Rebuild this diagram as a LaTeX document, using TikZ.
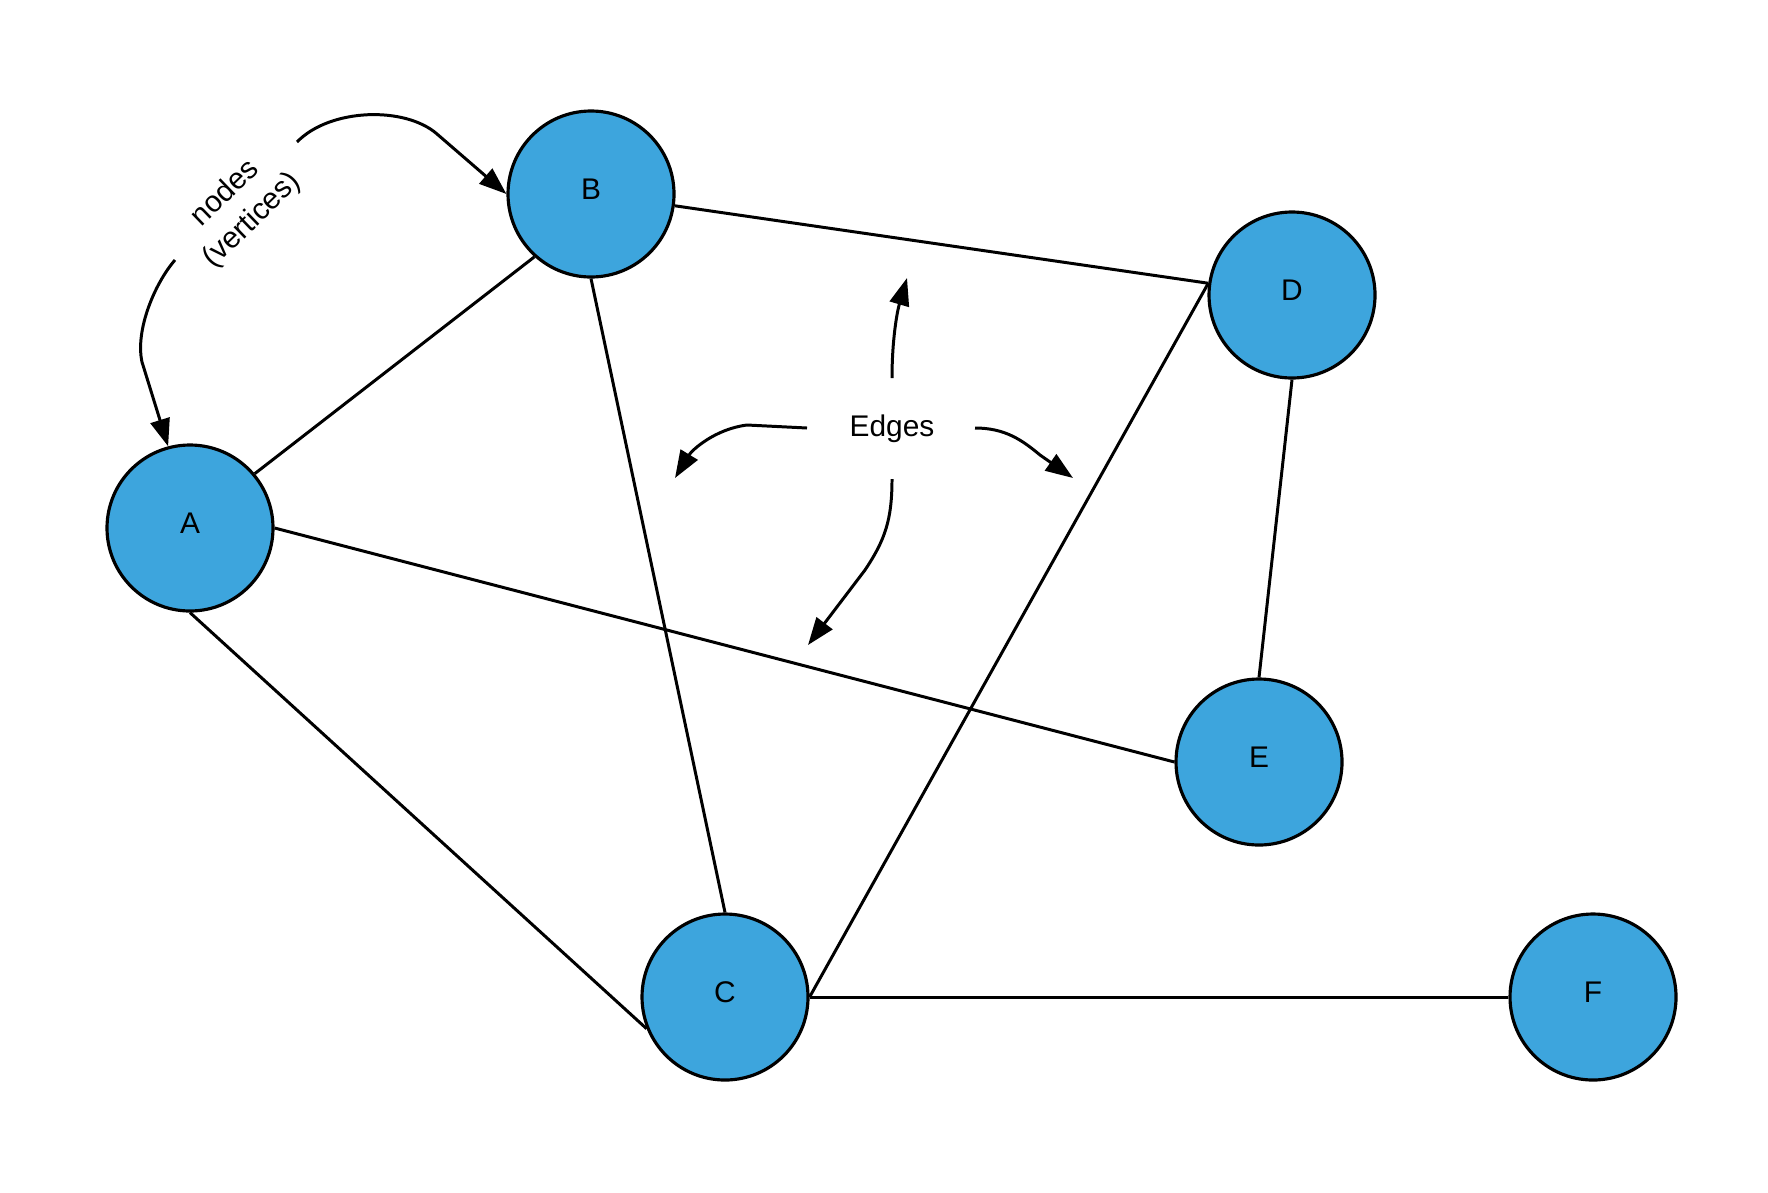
\documentclass[tikz,border=0pt]{standalone}
\usepackage{fontspec}
\setmainfont{Liberation Sans}
\usepackage{xcolor}
\usepackage{tikz}
\usetikzlibrary{
  arrows.meta,
  positioning,
  calc
}
\definecolor{vblue}{RGB}{61,165,221}

\begin{document}
\begin{tikzpicture}[
    font=\fontsize{8.5}{10.8}\selectfont,
    vertex/.style={circle, draw, line width=0.9pt, fill=vblue,
                   minimum size=1.66cm, inner sep=0pt, text depth=2.8pt},
    edge/.style={line width=0.85pt},
    note/.style={line width=0.85pt,
                 -{Triangle[length=7.8pt, width=5.6pt]}},
  ]
  \useasboundingbox (0,0) rectangle (17.68,-11.92);

  % Vertices
  \node[vertex] (A) at (1.90,-5.28) {A};
  \node[vertex] (B) at (5.91,-1.94) {B};
  \node[vertex] (D) at (12.92,-2.95) {D};
  \node[vertex] (E) at (12.59,-7.62) {E};
  \node[vertex] (C) at (7.25,-9.97) {C};
  \node[vertex] (F) at (15.93,-9.97) {F};

  % Edges
  \draw[edge] (A.40) -- (B.228);
  \draw[edge] (A.east) -- (E.west);
  \draw[edge] (A.south) -- (C.202);
  \draw[edge] (B.south) -- (C.north);
  \draw[edge] (B.-8) -- (D.172);
  \draw[edge] (C.east) -- (D.172);
  \draw[edge] (D.south) -- (E.north);
  \draw[edge] (C.east) -- (F.west);

  % Labels
  \node[rotate=44, align=center] (vlbl) at (2.39,-2.07)
    {nodes\\(vertices)};
  \node (elbl) at (8.92,-4.29) {Edges};

  % Annotation arrows
  \coordinate (vtop) at (2.97,-1.42);
  \coordinate (vlow) at (1.75,-2.60);
  \draw[note] (vtop) .. controls (3.30,-1.08) and (4.05,-1.06)
    .. (4.37,-1.34) -- (B.west);
  \draw[note] (vlow) .. controls (1.55,-2.83) and (1.35,-3.30)
    .. (1.42,-3.62) -- (A.105);

  \coordinate (eup)    at (8.92,-3.78);
  \coordinate (eupt)   at (9.07,-2.78);
  \coordinate (eleft)  at (8.07,-4.28);
  \coordinate (eleftt) at (6.75,-4.78);
  \coordinate (erght)  at (9.75,-4.28);
  \coordinate (erghtt) at (10.73,-4.78);
  \coordinate (edown)  at (8.92,-4.79);
  \coordinate (edownt) at (8.08,-6.45);
  \draw[note] (eup) .. controls (8.92,-3.40) and (8.97,-3.12) .. (eupt);
  \draw[note] (eleft) -- (7.47,-4.25)
    .. controls (7.15,-4.29) and (6.92,-4.50) .. (eleftt);
  \draw[note] (erght) .. controls (10.05,-4.28) and (10.22,-4.40)
    .. (10.40,-4.55) -- (erghtt);
  \draw[note] (edown) .. controls (8.92,-5.20) and (8.85,-5.40)
    .. (8.65,-5.70) -- (edownt);

\end{tikzpicture}
\end{document}
